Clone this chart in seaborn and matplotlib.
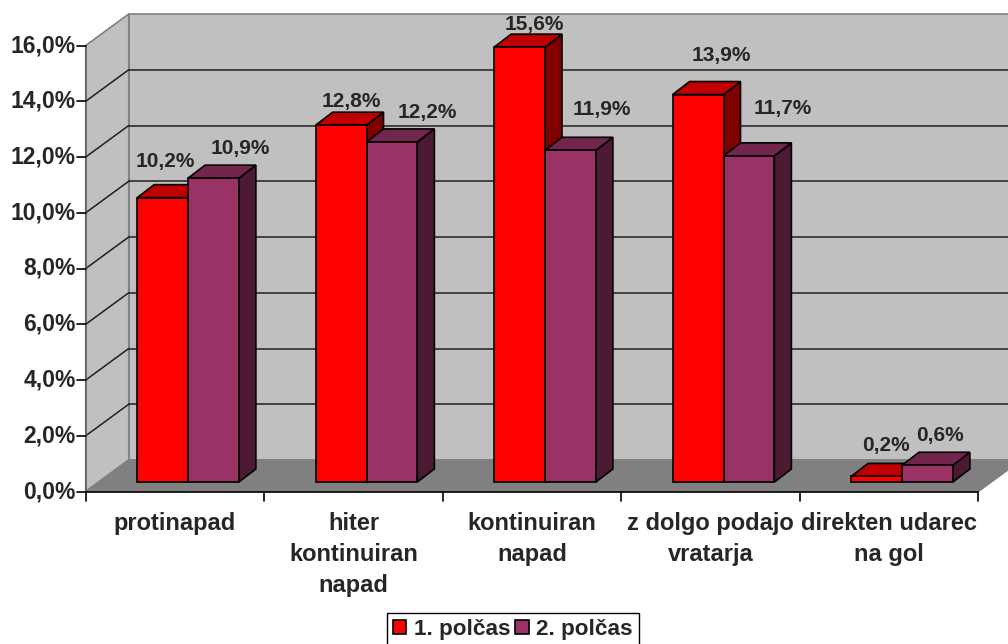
import matplotlib
matplotlib.use("Agg")
import matplotlib.pyplot as plt
import seaborn as sns
import pandas as pd
from matplotlib.patches import Polygon, Patch

# ---------------- data ----------------
categories = ["protinapad", "hiter\nkontinuiran\nnapad", "kontinuiran\nnapad",
              "z dolgo podajo\nvratarja", "direkten udarec\nna gol"]
series_names = ["1. polčas", "2. polčas"]
first_half = [10.2, 12.8, 15.6, 13.9, 0.2]
second_half = [10.9, 12.2, 11.9, 11.7, 0.6]
y_ticks = [0, 2, 4, 6, 8, 10, 12, 14, 16]
y_tick_labels = ["0,0%", "2,0%", "4,0%", "6,0%", "8,0%", "10,0%", "12,0%", "14,0%", "16,0%"]

# ---------------- style ----------------
front_colors = ["#FF0000", "#993366"]
top_colors = ["#C00000", "#73264D"]
side_colors = ["#800000", "#4D1A33"]
wall_color = "#C0C0C0"
floor_color = "#808080"
edge_gray = "#808080"

# label nudges (pixels: right, up) relative to front-top centre of each bar
label_nudge = [
    [(3, 36), (10, 24), (15, 22.5), (23.5, 39), (9, 31)],
    [(26.5, 30), (35.5, 29.5), (31, 40.5), (34, 47.5), (13, 30)],
]

sns.set_style("white")
plt.rcParams['font.family'] = ['Liberation Sans', 'DejaVu Sans']

W, H = 1008, 644
fig = plt.figure(figsize=(W / 100, H / 100), dpi=100)
fig.patch.set_facecolor("white")

# axes = front plane of the bars
left_px, right_px, bottom_px, top_px = 98.75, 991.25, 482, 36
ax = fig.add_axes([left_px / W, (H - bottom_px) / H,
                   (right_px - left_px) / W, (bottom_px - top_px) / H])
PX_X = (right_px - left_px) / 5.0
PX_Y = (bottom_px - top_px) / 16.0


def off(dxp, dyp):
    """pixel offset (right, down) -> data offset"""
    return dxp / PX_X, -dyp / PX_Y


FX, FY = off(-13, 9.5)    # front edge of floor relative to bar plane
BX, BY = off(30, -22)     # back wall relative to bar plane
DX, DY = off(17, -13)     # bar depth

df = pd.DataFrame({
    "kategorija": categories * 2,
    "delez": first_half + second_half,
    "polcas": [series_names[0]] * len(categories) + [series_names[1]] * len(categories),
})

sns.barplot(data=df, x="kategorija", y="delez", hue="polcas", order=categories,
            hue_order=series_names, palette=front_colors, saturation=1,
            width=0.57, edgecolor="black", linewidth=1.2, legend=False, ax=ax)
ax.set_xlim(-0.5, 4.5)
ax.set_ylim(0, 16)
ax.axis("off")


def F(x, y):
    return (x + FX, y + FY)


def B(x, y):
    return (x + BX, y + BY)


x0, x1 = -0.5, 4.5
# walls
ax.add_patch(Polygon([B(x0, 0), B(x1, 0), B(x1, 16), B(x0, 16)], closed=True,
                     facecolor=wall_color, edgecolor=edge_gray, lw=1.2, zorder=1, clip_on=False))
ax.add_patch(Polygon([F(x0, 0), F(x0, 16), B(x0, 16), B(x0, 0)], closed=True,
                     facecolor=wall_color, edgecolor=edge_gray, lw=1.2, zorder=1, clip_on=False))
ax.add_patch(Polygon([F(x0, 0), F(x1, 0), B(x1, 0), B(x0, 0)], closed=True,
                     facecolor=floor_color, edgecolor=edge_gray, lw=1.2, zorder=2, clip_on=False))
# gridlines
for yv in y_ticks[1:-1]:
    ax.plot([B(x0, yv)[0], B(x1, yv)[0]], [B(x0, yv)[1], B(x1, yv)[1]],
            color="#202020", lw=1.1, zorder=3, clip_on=False)
    ax.plot([F(x0, yv)[0], B(x0, yv)[0]], [F(x0, yv)[1], B(x0, yv)[1]],
            color="#202020", lw=1.1, zorder=3, clip_on=False)
# floor front edge
ax.plot([F(x0, 0)[0], F(x1, 0)[0]], [F(x0, 0)[1], F(x1, 0)[1]],
        color="black", lw=1.2, zorder=4, clip_on=False)
ax.plot([F(x0, 0)[0], F(x0, 16)[0]], [F(x0, 0)[1], F(x0, 16)[1]],
        color="#606060", lw=1.2, zorder=4, clip_on=False)

# y ticks and labels
tick_dx = 9 / PX_X
for yv, lab in zip(y_ticks, y_tick_labels):
    px, py = F(x0, yv)
    ax.plot([px - tick_dx, px], [py, py], color="black", lw=1.2, zorder=4, clip_on=False)
    ax.text(px - 10 / PX_X, py, lab, ha="right", va="center",
            fontsize=16.5, fontweight="bold", clip_on=False)

# category ticks and labels
tick_dy = 9 / PX_Y
for k in range(len(categories) + 1):
    px, py = F(k - 0.5, 0)
    ax.plot([px, px], [py, py - tick_dy], color="black", lw=1.2, zorder=4, clip_on=False)
for i, cat in enumerate(categories):
    px, py = F(i, 0)
    ax.text(px, py - 20.5 / PX_Y, cat, ha="center", va="top", multialignment="center",
            fontsize=17, fontweight="bold", linespacing=1.45, clip_on=False)

# 3D bar faces + labels
for j, cont in enumerate(ax.containers):
    for i, bar in enumerate(cont):
        bx = bar.get_x()
        bw = bar.get_width()
        bh = bar.get_height()
        base = 10 + i * 4 + j * 2
        side = Polygon([(bx + bw, 0), (bx + bw, bh), (bx + bw + DX, bh + DY), (bx + bw + DX, DY)],
                       closed=True, facecolor=side_colors[j], edgecolor="black", lw=1.2,
                       zorder=base, clip_on=False)
        top = Polygon([(bx, bh), (bx + bw, bh), (bx + bw + DX, bh + DY), (bx + DX, bh + DY)],
                      closed=True, facecolor=top_colors[j], edgecolor="black", lw=1.2,
                      zorder=base, clip_on=False)
        ax.add_patch(side)
        ax.add_patch(top)
        bar.set_zorder(base + 1)
        bar.set_clip_on(False)
        ndx, ndy = label_nudge[j][i]
        ax.text(bx + bw / 2 + ndx / PX_X, bh + ndy / PX_Y,
                f"{bh:.1f}%".replace(".", ","), ha="center", va="center",
                fontsize=15, fontweight="bold", zorder=60, clip_on=False)

handles = [Patch(facecolor=front_colors[k], edgecolor="black", lw=1.2) for k in range(2)]
leg = fig.legend(handles, series_names, loc="upper left",
                 bbox_to_anchor=(387 / W, 1 - 613 / H), ncol=2, frameon=True,
                 fancybox=False, edgecolor="black", framealpha=1, borderpad=0.25,
                 handlelength=0.6, handleheight=0.6, handletextpad=0.35,
                 columnspacing=0.2, borderaxespad=0,
                 prop=dict(weight="bold", size=16.2))
leg.get_frame().set_linewidth(1.0)

fig.savefig("out.png", dpi=100, facecolor="white")
